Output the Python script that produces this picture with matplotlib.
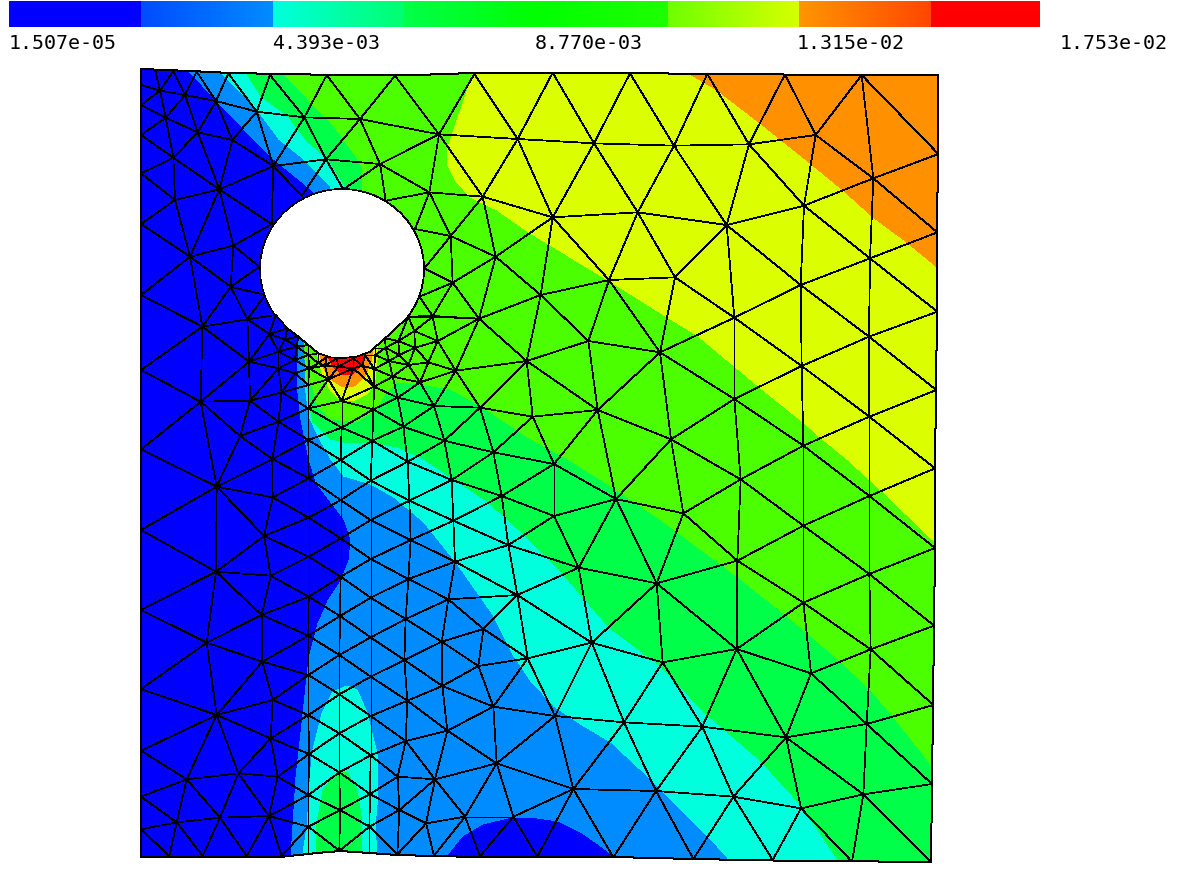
import numpy as np
import matplotlib
matplotlib.use("Agg")
import matplotlib.pyplot as plt
import matplotlib.tri as mtri
from matplotlib.path import Path
from matplotlib.collections import LineCollection


def from_crop(ox, oy, pts, s=3.0):
    return [(ox + x / s, oy + y / s) for x, y in pts]


# ---------- colour bar ----------
bar_labels = ["1.507e-05", "4.393e-03", "8.770e-03", "1.315e-02", "1.753e-02"]
bar_label_x = [9, 272, 535, 797, 1060]
bar_stops_x = [9, 140, 140.01, 272, 272.01, 403, 403.01, 535, 667, 667.01, 798, 798.01, 930, 930.01, 1040]
bar_stops_rgb = [(0, 0, 255), (0, 0, 255), (0, 75, 255), (0, 140, 255), (0, 255, 225), (0, 255, 110),
                 (0, 255, 75), (0, 255, 0), (30, 255, 0), (110, 255, 0), (215, 255, 0),
                 (255, 150, 0), (255, 70, 0), (255, 0, 0), (255, 0, 0)]

# ---------- band colours ----------
C_BLUE = "#0000ff"
C_BLUE2 = "#008cff"
C_CYAN = "#00ffdc"
C_GREEN1 = "#00ff48"
C_GREEN2 = "#4bff00"
C_YELLOW = "#dcff00"
C_ORANGE = "#ff9100"
C_RED = "#ff0000"

# ---------- domain and hole outline ----------
domain_top = [(141, 69), (190, 71), (230, 73), (337, 75), (417, 75), (473, 73), (553, 73), (630, 73), (707, 74), (860, 75), (938, 75)]
domain_right = [(938, 154), (937, 232), (937, 311), (936, 390), (935, 468), (935, 548), (934, 626), (933, 705), (932, 784), (931, 862)]
domain_bottom = [(773, 860.5), (693, 859), (613, 857), (480, 857), (433, 856), (397, 855), (370, 853), (340, 851), (317, 853), (280, 857), (141, 857)]
domain_outline = domain_top + domain_right + domain_bottom

hole_centre = (342, 269)
hole_radii = (82, 80)
hole_nub = from_crop(130, 60, [
    (835, 770), (765, 835), (720, 875), (680, 890), (640, 894), (600, 892), (565, 880), (535, 855), (505, 830),
    (472, 805), (437, 765)])

# ---------- contour bands (painted in order) ----------
band_yellow = [(473, 73), (463, 103), (448, 147), (447, 163), (455, 180), (470, 197), (497, 210), (530, 233), (550, 245),
               (608, 280), (667, 317), (697, 335), (733, 365), (763, 390), (803, 422), (820, 437), (848, 460), (883, 492),
               (935, 542), (935, 468), (936, 390), (937, 311), (937, 232), (938, 154), (938, 75), (860, 75), (707, 74), (630, 73), (553, 73)]
band_orange = [(690, 74), (717, 90), (760, 123), (810, 163), (843, 190), (873, 217), (908, 243), (937, 267), (937, 232), (938, 154), (938, 75), (860, 75), (707, 74)]
band_green1_up = [(283, 75), (307, 100), (330, 123), (357, 160), (362, 170), (362, 195), (320, 200), (245, 73)]
band_cyan_up = [(230, 73), (245, 73), (260, 97), (287, 117), (307, 143), (327, 160), (345, 188), (345, 200), (300, 200), (205, 72)]
band_blue2_up = [(187, 71), (220, 73), (240, 93), (258, 113), (278, 140), (303, 160), (330, 188), (330, 200), (300, 200), (175, 70)]

band_green1_low = [(308, 335), (308, 360), (310, 383), (317, 407), (330, 420), (357, 423), (377, 410), (387, 393), (397, 383), (417, 385),
                   (450, 390), (480, 407), (530, 440), (567, 460), (610, 487), (663, 523), (737, 578), (790, 620), (810, 637),
                   (837, 660), (867, 688), (892, 717), (932, 768), (931, 862), (773, 860.5), (693, 859), (613, 857), (480, 857), (433, 856), (397, 855),
                   (370, 853), (340, 851), (317, 853), (300, 855)]
band_cyan_low = [(303, 335), (304, 360), (308, 403), (312, 423), (330, 440), (343, 443), (370, 443), (397, 448), (423, 460),
                 (450, 478), (483, 500), (503, 517), (530, 542), (562, 575), (608, 628), (660, 667), (703, 713), (760, 762),
                 (802, 808), (837, 861), (773, 860.5), (693, 859), (613, 857), (480, 857), (433, 856), (397, 855), (370, 853),
                 (340, 851), (317, 853), (295, 855)]
band_blue2_low = [(298, 335), (303, 340), (304, 360), (305, 393), (308, 417), (317, 437), (330, 460), (343, 477), (370, 485), (393, 498),
                  (423, 523), (455, 563), (493, 617), (513, 657), (530, 682), (553, 707), (583, 727), (610, 743), (653, 783),
                  (707, 837), (727, 859), (693, 859), (613, 857), (480, 857), (433, 856), (397, 855), (370, 853), (340, 851),
                  (317, 853), (285, 857)]
band_cyan_pillar = [(303, 853), (307, 827), (312, 753), (322, 713), (333, 692), (347, 686), (357, 690), (367, 713), (377, 753),
                    (378, 793), (375, 827), (377, 853), (370, 853), (340, 851), (317, 853)]
band_green1_pillar = [(316, 852), (317, 823), (323, 790), (338, 772), (347, 772), (357, 790), (362, 823), (362, 852), (340, 851)]
band_blue_left = [(141, 69), (187, 71), (217, 103), (243, 130), (273, 160), (312, 192), (340, 260), (298, 337), (297, 360), (297, 393),
                  (300, 420), (308, 460), (315, 483), (330, 503), (343, 520), (350, 540), (348, 560), (340, 580), (327, 600),
                  (317, 623), (308, 657), (302, 713), (295, 777), (290, 857), (280, 857), (141, 857)]
band_blue_bottom = [(448, 856), (463, 837), (483, 825), (513, 818), (530, 818), (557, 822), (580, 833), (600, 847), (613, 857), (480, 857)]
band_yellow_hot = [(316, 345), (317, 353), (322, 373), (330, 390), (342, 401), (353, 401), (368, 393), (375, 380), (377, 360), (378, 340)]
band_orange_hot = [(319, 345), (320, 354), (323, 367), (329, 378), (343, 387), (353, 387), (365, 376), (371, 362), (374, 340)]
band_red_hot = [(327, 345), (328, 357), (333, 367), (343, 375), (353, 374), (360, 366), (365, 355), (365, 345)]

bands = [
    (domain_outline, C_GREEN2),
    (band_yellow, C_YELLOW),
    (band_orange, C_ORANGE),
    (band_green1_up, C_GREEN1),
    (band_cyan_up, C_CYAN),
    (band_blue2_up, C_BLUE2),
    (band_green1_low, C_GREEN1),
    (band_cyan_low, C_CYAN),
    (band_blue2_low, C_BLUE2),
    (band_cyan_pillar, C_CYAN),
    (band_green1_pillar, C_GREEN1),
    (band_blue_left, C_BLUE),
    (band_blue_bottom, C_BLUE),
    (band_yellow_hot, C_YELLOW),
    (band_orange_hot, C_ORANGE),
    (band_red_hot, C_RED),
]

# ---------- mesh nodes ----------
nodes_upper_left = from_crop(130, 60, [
    (33, 27), (75, 28), (130, 33), (200, 35), (295, 40), (420, 45), (590, 45), (795, 47), (1033, 42),
    (33, 75), (33, 135), (33, 225), (33, 340), (33, 492), (33, 705), (33, 930), (33, 1168),
    (90, 92), (165, 105), (258, 123), (380, 155), (523, 172), (690, 177), (927, 223), (1163, 237),
    (107, 173), (203, 217), (307, 240), (130, 293), (430, 318), (588, 298), (750, 312),
    (268, 388), (135, 420), (898, 397), (1058, 410),
    (180, 590), (310, 557), (962, 528), (1097, 590),
    (302, 680), (968, 668), (217, 800), (352, 778), (418, 822), (908, 768), (1047, 776),
    (357, 905), (445, 875), (495, 900), (500, 860), (535, 885), (445, 925), (495, 940), (465, 838),
    (977, 932), (870, 967), (1190, 903), (1050, 1043), (912, 1038), (803, 1013), (788, 950), (733, 927),
    (732, 980), (635, 1023), (730, 1048), (820, 1100), (635, 1103), (727, 1142), (943, 1142), (1090, 1177),
    (535, 1045), (535, 1140), (445, 1085), (360, 1022), (455, 997), (330, 1128), (212, 1025), (427, 1197),
    (535, 975), (595, 958),
])
nodes_hot = from_crop(285, 325, [
    (120, 122), (160, 125), (205, 130), (232, 122), (72, 130), (100, 115),
])
nodes_right_cluster = from_crop(365, 305, [
    (203, 35), (148, 78), (218, 108), (150, 128), (100, 108), (62, 128), (103, 150), (72, 168), (130, 180), (190, 172),
    (30, 150),
])
nodes_lower_left = from_crop(130, 460, [
    (536, 55), (536, 173), (536, 290), (536, 410), (535, 527), (535, 645), (535, 765), (537, 882), (535, 1005), (535, 1100), (535, 1178),
    (632, 0), (632, 120), (632, 235), (632, 350), (630, 468), (628, 585), (628, 703), (628, 820), (628, 937), (630, 1050), (628, 1172),
    (722, 62), (722, 180), (722, 297), (722, 413), (722, 532), (722, 650), (722, 768), (722, 886), (720, 1002), (718, 1100), (718, 1178),
    (833, 5), (838, 122), (842, 240), (835, 357), (827, 477), (823, 600), (832, 722), (827, 843), (803, 950), (808, 1050), (802, 1183),
    (965, 60), (970, 182), (975, 305), (955, 418), (935, 545), (937, 678), (952, 812), (915, 958), (888, 1090), (912, 1187),
    (1115, 108), (1135, 255), (1162, 405), (1060, 507), (1045, 618), (1090, 740), (1100, 910), (1005, 1070), (1050, 1188), (1150, 1070), (1193, 595),
    (260, 80), (428, 112), (402, 228), (258, 335), (422, 347), (395, 465), (230, 548), (397, 605), (428, 720), (260, 765), (422, 835),
    (443, 950), (325, 940), (170, 958), (140, 1087), (270, 1073), (417, 1068), (455, 1188), (350, 1188), (218, 1188), (118, 1188),
    (33, 210), (33, 450), (33, 687), (33, 872), (33, 1010), (33, 1108), (33, 1190),
])
nodes_upper_right = from_crop(530, 60, [
    (68, 38), (300, 40), (532, 42), (765, 43), (995, 45), (1226, 45), (1225, 282), (1222, 517), (1222, 755), (1219, 990),
    (192, 250), (432, 257), (657, 253), (857, 225), (1030, 355), (822, 437), (1020, 595),
    (68, 472), (323, 457), (590, 495), (812, 675), (1017, 830), (1018, 1070),
    (237, 660), (435, 652), (613, 773), (815, 918), (32, 705), (175, 843), (390, 877), (613, 1017), (820, 1157),
    (203, 1050), (423, 1138), (8, 1070),
])
nodes_lower_right = from_crop(530, 460, [
    (72, 12), (258, 117), (460, 160), (632, 58), (820, 197), (1018, 108), (1215, 25), (1215, 264),
    (72, 168), (146, 323), (380, 370), (622, 302), (820, 428), (1018, 342), (1212, 497),
    (185, 548), (398, 607), (620, 567), (843, 640), (1022, 568), (1210, 735),
    (75, 768), (282, 787), (517, 800), (768, 832), (1010, 792), (1206, 972),
    (130, 987), (378, 993), (610, 1010), (813, 1045), (1000, 1003),
    (22, 1190), (250, 1192), (490, 1197), (728, 1200), (966, 1205), (1203, 1205),
])
# nodes on the hole rim
nodes_rim = from_crop(130, 60, [
    (640, 388), (767, 422), (855, 507), (883, 625), (868, 710), (835, 770), (765, 835), (535, 855), (505, 830),
    (472, 805), (437, 765), (405, 705), (388, 620), (425, 492), (515, 408),
]) + from_crop(285, 325, [(100, 85), (125, 95), (155, 100), (205, 100), (240, 90), (270, 68)])

node_xy = np.array(nodes_upper_left + nodes_hot + nodes_right_cluster + nodes_lower_left +
                   nodes_upper_right + nodes_lower_right + nodes_rim)
n_rim = len(nodes_rim)

# ---------- figure ----------
fig = plt.figure(figsize=(11.9, 8.85), dpi=100, facecolor="white")
ax = fig.add_axes([0, 0, 1, 1])

px = np.arange(bar_stops_x[0], bar_stops_x[-1])
rgb = np.array(bar_stops_rgb, float)
bar_img = np.stack([np.interp(px, bar_stops_x, rgb[:, i]) for i in range(3)], axis=1)[None, :, :] / 255.0
ax.imshow(bar_img, extent=[bar_stops_x[0], bar_stops_x[-1], 27, 1], aspect="auto", interpolation="nearest", zorder=1)
for x, label in zip(bar_label_x, bar_labels):
    ax.text(x, 49, label, family="DejaVu Sans Mono", fontsize=14.4, color="black", ha="left", va="baseline")

for poly, colour in bands:
    pts = np.array(poly)
    ax.fill(pts[:, 0], pts[:, 1], facecolor=colour, edgecolor="none", linewidth=0, antialiased=False, zorder=2)

# hole outline: ellipse arc over the top, then the nub
t = np.radians(np.linspace(144.6, 396.4, 200))
arc = np.column_stack([hole_centre[0] + hole_radii[0] * np.cos(t), hole_centre[1] + hole_radii[1] * np.sin(t)])
hole = np.vstack([arc, np.array(hole_nub)])
ax.fill(hole[:, 0], hole[:, 1], facecolor="white", edgecolor="black", linewidth=0.5, antialiased=False, zorder=5)

tri = mtri.Triangulation(node_xy[:, 0], node_xy[:, 1])
centroids = node_xy[tri.triangles].mean(axis=1)
tri.set_mask(Path(hole).contains_points(centroids))


def dist_to_polyline(p, poly):
    a, b = poly[:-1], poly[1:]
    d = b - a
    s = np.clip(((p - a) * d).sum(1) / (d * d).sum(1), 0, 1)
    return np.hypot(*(a + s[:, None] * d - p).T).min()


outline = np.array(domain_outline + domain_outline[:1], float)
on_rim = np.zeros(len(node_xy), bool)
on_rim[-n_rim:] = True
on_outer = np.array([dist_to_polyline(p, outline) < 3 for p in node_xy])


def keep_edge(e):
    if on_rim[e].all():
        return False
    mid = node_xy[e].mean(axis=0)
    if on_outer[e].all() and dist_to_polyline(mid, outline) < 10:
        return False
    return True


keep = [e for e in tri.edges if keep_edge(e)]
mesh = LineCollection([node_xy[e] for e in keep], colors="black", linewidths=0.55, antialiaseds=False, zorder=4)
ax.add_collection(mesh)

ax.plot(outline[:, 0], outline[:, 1], color="black", linewidth=0.72, antialiased=False, zorder=4)

ax.set_xlim(0, 1190)
ax.set_ylim(885, 0)
ax.axis("off")
fig.savefig("out.png", dpi=100, facecolor="white")
